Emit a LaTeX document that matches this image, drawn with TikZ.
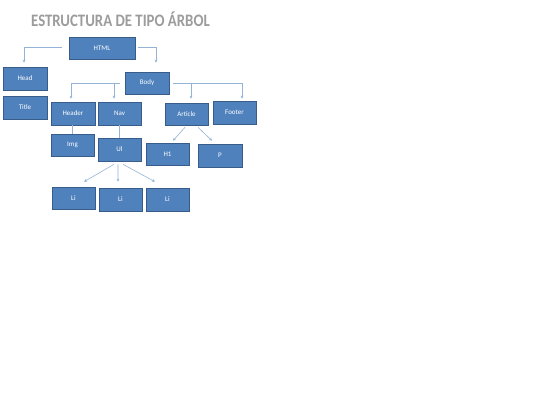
\documentclass[tikz,border=0pt]{standalone}
\usepackage{fontspec}
\setmainfont{Carlito}
\usetikzlibrary{arrows.meta}
\definecolor{boxfill}{HTML}{4F81BD}
\definecolor{boxline}{HTML}{385D8A}
\definecolor{conn}{HTML}{95B3D7}
\definecolor{titlegray}{HTML}{9C9C9C}
\tikzset{
  box/.style={draw=boxline, line width=0.6bp, fill=boxfill, text=white, inner sep=0pt,
    font=\fontsize{7bp}{8bp}\selectfont, minimum width=43bp, minimum height=22bp},
  arr/.style={draw=conn, line width=0.6bp, -{Stealth[length=3bp,width=3bp]}},
  plain/.style={draw=conn, line width=0.6bp},
}
\begin{document}
\begin{tikzpicture}[x=1bp,y=-1bp]
\useasboundingbox (0,0) rectangle (540,405);
\node[anchor=base west, inner sep=0pt, text=titlegray, font=\fontsize{17.5bp}{20bp}\selectfont\bfseries] (title) at (31,26) {\scalebox{0.845}[1]{ESTRUCTURA DE TIPO ÁRBOL}};

\node[box, minimum width=66bp] (html) at (102,48) {HTML};
\node[box, minimum width=44bp, minimum height=23bp] (head) at (25,78.5) {Head};
\node[box, minimum width=44bp, minimum height=23bp] (titleb) at (25,107.5) {Title};
\node[box, minimum width=44bp] (body) at (147,83) {Body};
\node[box, minimum width=44bp, minimum height=23bp] (header) at (73,113.5) {Header};
\node[box, minimum height=23bp] (nav) at (119.5,113.5) {Nav};
\node[box] (article) at (186.5,114) {Article};
\node[box, minimum height=23bp] (footer) at (234.5,112.5) {Footer};
\node[box] (img) at (72.5,145) {Img};
\node[box, minimum height=23bp] (ul) at (119.5,149.5) {Ul};
\node[box] (h1) at (167.5,154) {H1};
\node[box, minimum width=44bp, minimum height=23bp] (p) at (220,155.5) {P};
\node[box] (li1) at (73.5,198) {Li};
\node[box, minimum height=23bp] (li2) at (120.5,199.5) {Li};
\node[box, minimum height=23bp] (li3) at (167.5,199.5) {Li};

\draw[arr] ([xshift=-7bp,yshift=1bp]html.west) -| ([xshift=-1bp,yshift=4bp]head.north);
\draw[arr] ([xshift=3bp,yshift=1bp]html.east) -| ([xshift=9bp,yshift=9bp]body.north);
\draw[arr] ([xshift=-5bp]body.west) -| ([xshift=-2bp,yshift=3bp]header.north);
\draw[arr] ([xshift=-5bp]body.west) -| ([xshift=-5.5bp,yshift=3bp]nav.north);
\draw[arr] ([xshift=4bp]body.east) -| ([xshift=4.5bp,yshift=4bp]article.north);
\draw[arr] ([xshift=4bp]body.east) -| ([xshift=7.5bp,yshift=2bp]footer.north);
\draw[plain] ([xshift=-1bp]header.south) -- ([xshift=-0.5bp]img.north);
\draw[plain] ([xshift=-0.5bp]nav.south) -- ([xshift=-0.5bp]ul.north);
\draw[arr] ([xshift=-1.5bp,yshift=-2bp]article.south) -- ([xshift=5.5bp,yshift=2bp]h1.north);
\draw[arr] ([xshift=11.5bp,yshift=-2bp]article.south) -- ([xshift=-8bp,yshift=3bp]p.north);
\draw[arr] ([xshift=-5.5bp,yshift=-3bp]ul.south) -- ([xshift=10.5bp,yshift=5bp]li1.north);
\draw[arr] ([xshift=-1.5bp,yshift=-3bp]ul.south) -- ([xshift=-2.5bp,yshift=6bp]li2.north);
\draw[arr] ([xshift=3.5bp,yshift=-3bp]ul.south) -- ([xshift=-12.5bp,yshift=6bp]li3.north);
\end{tikzpicture}
\end{document}
